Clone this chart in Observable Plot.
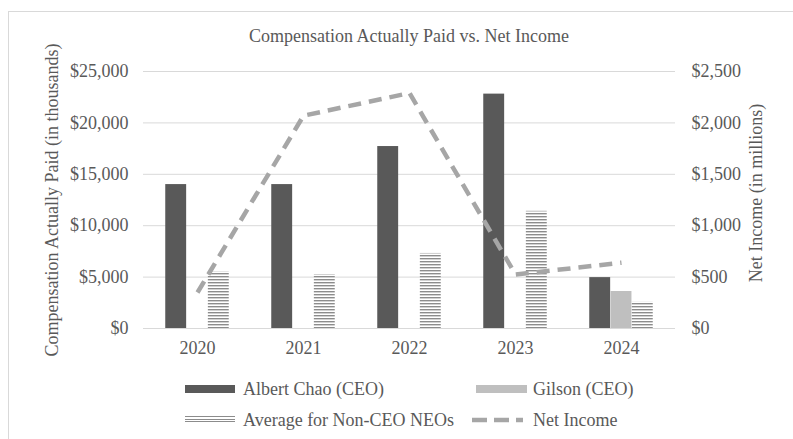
<!DOCTYPE html>
<html><head><meta charset="utf-8">
<script src="https://cdn.jsdelivr.net/npm/d3@7"></script>
<script src="https://cdn.jsdelivr.net/npm/@observablehq/plot@0.6"></script>
<style>
body{margin:0;background:#fff;}
#chart{position:relative;width:793px;height:439px;overflow:hidden;font-family:"Liberation Serif","Times New Roman",serif;color:#595959;background:#fff;}
#chart svg{position:absolute;left:0;top:0;}
.frame{position:absolute;left:8px;top:11px;width:900px;height:600px;border:1px solid #d9d9d9;box-sizing:border-box;pointer-events:none}
.t{position:absolute;white-space:nowrap;font-size:18px;line-height:18px}
.rot{transform:translate(-50%,-50%) rotate(-90deg);}
.sw{position:absolute;}
</style>
</head><body>
<div id="chart"></div>
<script>
const years = ["2020", "2021", "2022", "2023", "2024"];
const albertChao = [14000, 14000, 17700, 22800, 4950];
const gilson = [null, null, null, null, 3600];
const avgNonCeo = [5500, 5250, 7300, 11400, 2550];
const netIncome = [350, 2070, 2290, 525, 640];
const compTicks = [0, 5000, 10000, 15000, 20000, 25000];
const niTicks = [0, 500, 1000, 1500, 2000, 2500];

const rows = years.map((y, i) => ({year: y, albert: albertChao[i], gilson: gilson[i], avg: avgNonCeo[i], ni: netIncome[i]}));

const W = 793, H = 439, mt = 71, mb = 111, ml = 143, mr = 118;
const bw = (W - ml - mr) / years.length;
const slot = 21.3;
const pad = (bw - 3 * slot) / 2;
const ratio = compTicks[compTicks.length - 1] / niTicks[niTicks.length - 1];
const money = d3.format(",");

const plot = Plot.plot({
  width: W, height: H,
  marginTop: mt, marginBottom: mb, marginLeft: ml, marginRight: mr,
  x: {type: "band", domain: years, padding: 0},
  y: {domain: [0, 25000]},
  style: {background: "transparent", fontFamily: "'Liberation Serif', 'Times New Roman', serif", fontSize: "18px", color: "#595959"},
  marks: [
    Plot.gridY(compTicks, {stroke: "#d9d9d9", strokeOpacity: 1, strokeWidth: 1}),
    Plot.barY(rows, {x: "year", y: "albert", fill: "#595959", insetLeft: pad, insetRight: bw - pad - slot}),
    Plot.barY(rows.filter(d => d.gilson != null), {x: "year", y: "gilson", fill: "#bfbfbf", insetLeft: pad + slot, insetRight: pad + slot}),
    Plot.barY(rows, {x: "year", y: "avg", fill: "url(#stripes)", insetLeft: pad + 2 * slot, insetRight: pad}),
    Plot.line(rows, {x: "year", y: d => d.ni * ratio, stroke: "#a6a6a6", strokeWidth: 4.5, strokeDasharray: "13,8", strokeLinecap: "butt", strokeLinejoin: "round"}),
    Plot.axisY(compTicks, {anchor: "left", tickSize: 0, tickPadding: 15, tickFormat: d => "$" + money(d), label: null, fill: "#595959"}),
    Plot.axisY(niTicks.map(v => v * ratio), {anchor: "right", tickSize: 0, tickPadding: 16, tickFormat: d => "$" + money(d / ratio), label: null, fill: "#595959"}),
    Plot.axisX({tickSize: 0, tickPadding: 13, label: null, fill: "#595959"})
  ]
});

const ns = "http://www.w3.org/2000/svg";
const defs = document.createElementNS(ns, "defs");
const pat = document.createElementNS(ns, "pattern");
pat.setAttribute("id", "stripes");
pat.setAttribute("patternUnits", "userSpaceOnUse");
pat.setAttribute("width", "4");
pat.setAttribute("height", "3");
const r1 = document.createElementNS(ns, "rect");
r1.setAttribute("width", "4"); r1.setAttribute("height", "3"); r1.setAttribute("fill", "#ffffff");
const r2 = document.createElementNS(ns, "rect");
r2.setAttribute("width", "4"); r2.setAttribute("height", "1.4"); r2.setAttribute("fill", "#8c8c8c");
pat.appendChild(r1); pat.appendChild(r2); defs.appendChild(pat);
plot.insertBefore(defs, plot.firstChild);

const chart = document.getElementById("chart");
chart.appendChild(plot);

function addText(txt, css, cls) {
  const d = document.createElement("div");
  d.className = "t " + (cls || "");
  d.textContent = txt;
  Object.assign(d.style, css);
  chart.appendChild(d);
  return d;
}
const title = addText("Compensation Actually Paid vs. Net Income", {left: (ml + (W - mr)) / 2 + "px", top: "27px", transform: "translateX(-50%)"});
addText("Compensation Actually Paid (in thousands)", {left: "52px", top: "200px"}, "rot");
addText("Net Income (in millions)", {left: "756px", top: "193px"}, "rot");

// legend
function swatch(css, html) {
  const d = document.createElement("div");
  d.className = "sw";
  Object.assign(d.style, css);
  if (html) d.innerHTML = html;
  chart.appendChild(d);
}
swatch({left: "185px", top: "385px", width: "50px", height: "8px", background: "#595959"});
addText("Albert Chao (CEO)", {left: "243px", top: "380px"});
swatch({left: "476px", top: "385px", width: "51px", height: "8px", background: "#bfbfbf"});
addText("Gilson (CEO)", {left: "533px", top: "380px"});
swatch({left: "185px", top: "416px", width: "50px", height: "8px", background: "repeating-linear-gradient(to bottom, #8c8c8c 0px, #8c8c8c 1.2px, #ffffff 1.2px, #ffffff 2.5px)"});
addText("Average for Non-CEO NEOs", {left: "243px", top: "411px"});
swatch({left: "472px", top: "416px", width: "51px", height: "8px"},
  '<svg width="51" height="8"><line x1="0" y1="4" x2="51" y2="4" stroke="#a6a6a6" stroke-width="4.5" stroke-dasharray="15,7"/></svg>');
addText("Net Income", {left: "533px", top: "411px"});

const frame = document.createElement("div");
frame.className = "frame";
chart.appendChild(frame);
</script>
</body></html>
